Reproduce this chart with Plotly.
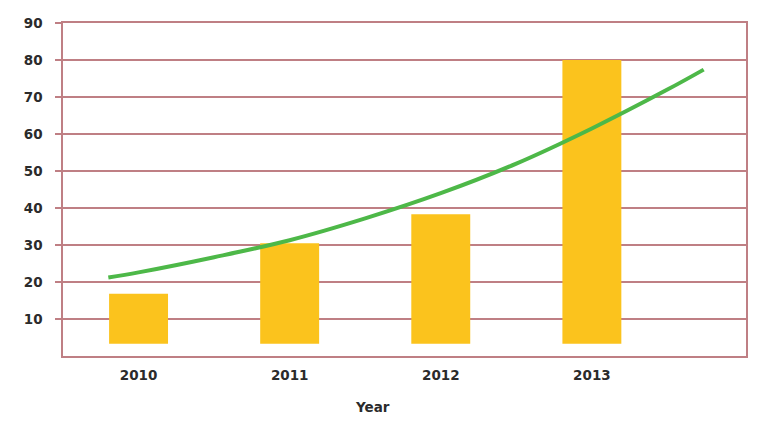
import plotly.graph_objects as go

years = ["2010", "2011", "2012", "2013"]
bar_tops = [16.8, 30.5, 38.3, 80.0]
bar_base = 3.3
y_ticks = [10, 20, 30, 40, 50, 60, 70, 80, 90]

# trend curve points (x in category units, 0 = 2010)
trend_x = [-0.2, 0.0, 0.5, 1.0, 1.5, 2.0, 2.5, 3.0, 3.5, 3.74]
trend_y = [21.2, 22.6, 26.7, 31.3, 37.2, 44.0, 52.0, 61.5, 72.0, 77.4]

grid_color = "#BF7F84"
font_fam = "DejaVu Sans"

fig = go.Figure()
fig.add_trace(go.Bar(
    x=list(range(len(years))),
    y=[t - bar_base for t in bar_tops],
    base=bar_base,
    width=0.39,
    marker=dict(color="#FBC31D", line=dict(width=0)),
    showlegend=False,
))
fig.add_trace(go.Scatter(
    x=trend_x, y=trend_y, mode="lines",
    line=dict(color="#4DB848", width=4, shape="spline"),
    showlegend=False,
))

fig.update_layout(
    width=770, height=427,
    margin=dict(l=63, r=24, t=23, b=71),
    paper_bgcolor="white", plot_bgcolor="white",
    xaxis=dict(
        range=[-0.5, 4.02],
        tickvals=list(range(len(years))), ticktext=years,
        showgrid=False, zeroline=False,
        showline=True, linecolor=grid_color, linewidth=1.5, mirror=True,
        ticks="", ticklabelstandoff=6,
        tickfont=dict(family=font_fam, size=13.5, color="#2B2B2B", weight="bold"),
    ),
    yaxis=dict(
        range=[0, 90],
        tickvals=y_ticks,
        showgrid=True, gridcolor=grid_color, gridwidth=1.5,
        zeroline=False,
        showline=True, linecolor=grid_color, linewidth=1.5, mirror=True,
        ticks="outside", ticklen=6, tickcolor=grid_color, tickwidth=1.5,
        ticklabelstandoff=10,
        tickfont=dict(family=font_fam, size=13.5, color="#2B2B2B", weight="bold"),
    ),
    annotations=[dict(
        text="Year", x=372, y=407, xref="paper", yref="paper", showarrow=False,
        font=dict(family=font_fam, size=13.5, color="#2B2B2B", weight="bold"),
    )],
)
# place annotation in pixel terms
pw = 770 - 63 - 24
ph = 427 - 23 - 71
fig.layout.annotations[0].x = (372 - 63) / pw
fig.layout.annotations[0].y = (427 - 71 - 407) / ph
fig.layout.annotations[0].yanchor = "middle"
fig.layout.annotations[0].xanchor = "center"

fig.write_html("out.html")
